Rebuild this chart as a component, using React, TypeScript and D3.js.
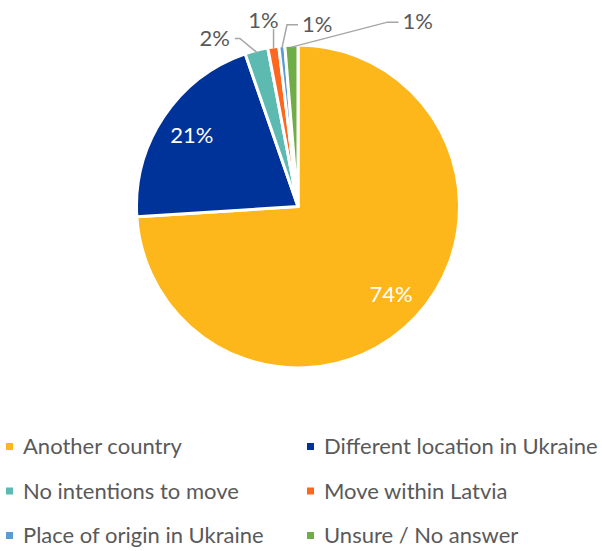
import React from 'react';
import * as d3 from 'd3';

// survey answers, share of respondents (%)
const categories = [
  'Another country',
  'Different location in Ukraine',
  'No intentions to move',
  'Move within Latvia',
  'Place of origin in Ukraine',
  'Unsure / No answer',
];
const shares = [74.0, 20.7, 2.3, 1.1, 0.6, 1.3];
const labels = ['74%', '21%', '2%', '1%', '1%', '1%'];
const colors = ['#FDB71B', '#003399', '#5CBAB1', '#FF671F', '#5B9BD5', '#70AD47'];

// callout placement for the thin slices: [elbow dx, elbow dy, end dx] from slice edge
const callouts: ([number, number, number] | null)[] = [
  null,
  null,
  [-17, -14, -5],
  [0, -20, 0],
  [5, -23, 11],
  [96, -25, 11],
];

const width = 602;
const height = 551;
const cx = 298;
const cy = 206.5;
const radius = 161.5;
const font = 'Lato, "Open Sans", sans-serif';
const textGrey = '#595959';
const fontSize = 22;

export default function App() {
  const pie = d3.pie<number>().sort(null).value((d) => d)(shares);
  const arc = d3.arc<d3.PieArcDatum<number>>().innerRadius(0).outerRadius(radius);
  const labelArc = d3.arc<d3.PieArcDatum<number>>().innerRadius(radius * 0.79).outerRadius(radius * 0.79);
  const edgeArc = d3.arc<d3.PieArcDatum<number>>().innerRadius(radius - 2).outerRadius(radius - 2);

  const legendRows = d3.scalePoint<number>().domain([0, 1, 2]).range([454, 543]);
  const legendCols = d3.scalePoint<number>().domain([0, 1]).range([6, 307]);

  return (
    <svg
      width={width}
      height={height}
      style={{ position: 'absolute', left: 0, top: 0, background: '#fff' }}
      fontFamily={font}
    >
      <g transform={`translate(${cx},${cy})`}>
        {pie.map((d, i) => (
          <path key={i} d={arc(d) || ''} fill={colors[i]} stroke="#fff" strokeWidth={3} strokeLinejoin="round" />
        ))}
        {pie.map((d, i) => {
          const c = callouts[i];
          if (!c) {
            const [x, y] = labelArc.centroid(d);
            return (
              <text key={i} x={x} y={y} dy="0.35em" textAnchor="middle" fill="#fff" fontSize={fontSize}>
                {labels[i]}
              </text>
            );
          }
          const [sx, sy] = edgeArc.centroid(d);
          const ex = sx + c[0];
          const ey = sy + c[1];
          const tx = ex + c[2];
          const leftSide = c[2] < 0;
          const vertical = c[2] === 0;
          return (
            <g key={i}>
              <polyline
                points={`${sx},${sy} ${ex},${ey} ${tx},${ey}`}
                fill="none"
                stroke="#A6A6A6"
                strokeWidth={1.5}
              />
              <text
                x={leftSide ? tx - 5 : vertical ? tx + 5 : tx + 4}
                y={ey}
                dy={vertical ? '-0.05em' : '0.33em'}
                textAnchor={leftSide || vertical ? 'end' : 'start'}
                fill={textGrey}
                fontSize={fontSize}
              >
                {labels[i]}
              </text>
            </g>
          );
        })}
      </g>
      <g>
        {categories.map((name, i) => {
          const x = legendCols(i % 2) as number;
          const y = legendRows(Math.floor(i / 2)) as number;
          return (
            <g key={name}>
              <rect x={x} y={y - 11} width={7} height={7} fill={colors[i]} />
              <text x={x + 17} y={y} fill={textGrey} fontSize={fontSize}>
                {name}
              </text>
            </g>
          );
        })}
      </g>
    </svg>
  );
}
